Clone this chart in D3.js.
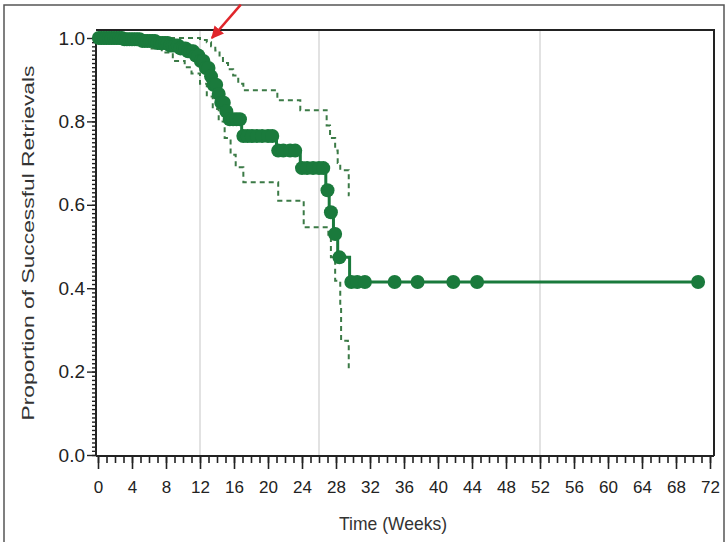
<!DOCTYPE html>
<html>
<head>
<meta charset="utf-8">
<script src="https://cdn.jsdelivr.net/npm/d3@7"></script>
<style>
  body { margin: 0; background: #fff; }
  svg { display: block; font-family: "Liberation Sans", Arial, sans-serif; }
</style>
</head>
<body>
<svg id="chart" width="727" height="542"></svg>
<script>
// -------- DATA --------
// Kaplan-Meier Schritte (Woche, Anteil)
const stepWeeks = [0, 3, 5, 7, 8.5, 9.5, 10.5, 11.3, 12, 12.6, 13.1, 13.5, 14, 14.5, 15, 15.4, 16.9, 21, 23.8, 26.8, 27.2, 27.7, 28.2, 29.6];
const stepSurv  = [1.0, 0.997, 0.993, 0.988, 0.982, 0.975, 0.968, 0.958, 0.945, 0.928, 0.908, 0.888, 0.866, 0.845, 0.824, 0.805, 0.765, 0.73, 0.688, 0.635, 0.582, 0.53, 0.474, 0.415];
const endWeek = 70.6;

// zensierte Beobachtungen (Marker)
const censorWeeks = [0.1, 0.4, 0.7, 1.0, 1.3, 1.6, 1.9, 2.2, 2.5, 2.8, 3.1, 3.4, 3.7, 4.0, 4.3, 4.6, 4.9, 5.2, 5.5, 5.8,
  6.1, 6.4, 6.7, 7.0, 7.3, 7.6, 7.9, 8.2, 8.5, 8.8, 9.1, 9.4, 9.7, 10.0, 10.3, 10.6, 10.9, 11.2, 11.5, 11.8,
  12.1, 12.4, 12.7, 13.0, 13.3, 13.6, 13.9, 14.2, 14.5, 14.8, 15.1, 15.5, 15.9, 16.3, 16.7, 17.1, 17.6, 18.1,
  18.7, 19.3, 20.0, 20.5, 21.2, 21.8, 22.6, 23.2, 24.0, 24.6, 25.3, 26.0, 26.5, 27.0, 27.4, 27.9, 28.4,
  29.8, 30.5, 31.4, 34.9, 37.6, 41.8, 44.6, 70.6];

// Konfidenzband
const upperWeeks = [0, 10.8, 12, 12.8, 13.3, 13.8, 14.3, 14.7, 15.3, 15.9, 16.5, 17.1, 21.1, 23.8, 26.9, 27.3, 27.9, 28.2, 28.5, 29.5, 29.6];
const upperSurv  = [1.0, 1.0, 0.995, 0.99, 0.98, 0.97, 0.955, 0.94, 0.925, 0.91, 0.89, 0.875, 0.851, 0.827, 0.79, 0.76, 0.73, 0.70, 0.683, 0.623, 0.623];
const lowerWeeks = [0, 2, 4, 6, 7.5, 8.8, 10.2, 11, 12, 12.8, 13.5, 14.2, 14.9, 15.6, 16.2, 17.1, 21.2, 24.2, 27.1, 27.4, 27.9, 28.5, 28.6, 29.4, 29.5, 29.6];
const lowerSurv  = [1.0, 0.995, 0.985, 0.975, 0.965, 0.945, 0.93, 0.915, 0.89, 0.86, 0.83, 0.8, 0.76, 0.72, 0.69, 0.654, 0.61, 0.546, 0.522, 0.474, 0.418, 0.353, 0.274, 0.267, 0.202, 0.202];

// Achsen / Gitter
const xTicks = [0, 4, 8, 12, 16, 20, 24, 28, 32, 36, 40, 44, 48, 52, 56, 60, 64, 68, 72];
const yTicks = [0.0, 0.2, 0.4, 0.6, 0.8, 1.0];
const gridWeeks = [12, 26, 52];

// -------- LAYOUT --------
const green = "#1a7a3c";
const dashGreen = "#3b7a46";
const svg = d3.select("#chart");

const x = d3.scaleLinear().domain([0, 72]).range([98, 710]);
const y = d3.scaleLinear().domain([0, 1]).range([455, 38]);
const plotLeft = 96, plotRight = 714, plotTop = 30, plotBottom = 456;

// äusserer Rahmen
svg.append("rect")
  .attr("x", 4).attr("y", 5).attr("width", 720).attr("height", 545)
  .attr("fill", "none").attr("stroke", "#555").attr("stroke-width", 1.5);

// Gitterlinien
svg.append("g").selectAll("line")
  .data(gridWeeks)
  .join("line")
    .attr("x1", d => x(d)).attr("x2", d => x(d))
    .attr("y1", plotTop).attr("y2", plotBottom)
    .attr("stroke", "#cfcfcf").attr("stroke-width", 1.2);

// Plot-Rahmen oben / rechts
svg.append("path")
  .attr("d", `M${plotLeft},${plotTop}H${plotRight}V${plotBottom}`)
  .attr("fill", "none").attr("stroke", "#222").attr("stroke-width", 2);

// X-Achse
const xAxisG = svg.append("g").attr("transform", `translate(0,${plotBottom})`);
xAxisG.call(d3.axisBottom(x).tickValues(d3.range(0, 73, 1)).tickSize(7).tickFormat(""));
xAxisG.call(g => g.append("g").call(d3.axisBottom(x).tickValues(xTicks).tickSize(13).tickFormat(d3.format("d"))));
xAxisG.selectAll(".domain").attr("d", `M${plotLeft},0H${plotRight}`).attr("stroke", "#222").attr("stroke-width", 2);
xAxisG.selectAll(".tick line").attr("stroke", "#222").attr("stroke-width", 1.6);
xAxisG.selectAll(".tick text")
  .attr("y", 25).attr("dy", "0.71em")
  .style("font-size", "17px").attr("fill", "#222");

// Y-Achse
const yAxisG = svg.append("g").attr("transform", `translate(${plotLeft},0)`);
yAxisG.call(d3.axisLeft(y).tickValues(d3.range(0, 1.001, 0.01)).tickSize(4).tickFormat(""));
yAxisG.call(g => g.append("g").call(d3.axisLeft(y).tickValues(yTicks).tickSize(9).tickFormat(d3.format(".1f"))));
yAxisG.selectAll(".domain").attr("d", `M0,${plotTop + 8}V${plotBottom}`).attr("stroke", "#222").attr("stroke-width", 2);
yAxisG.selectAll(".tick line").attr("stroke", "#222").attr("stroke-width", 1.4);
yAxisG.selectAll(".tick text")
  .attr("x", -11)
  .style("font-size", "19px").attr("fill", "#222");

// Achsentitel
svg.append("text")
  .attr("x", 393).attr("y", 530)
  .attr("text-anchor", "middle")
  .attr("textLength", 108).attr("lengthAdjust", "spacingAndGlyphs")
  .style("font-size", "19px").attr("fill", "#333")
  .text("Time (Weeks)");

svg.append("text")
  .attr("transform", `translate(34,243) rotate(-90)`)
  .attr("text-anchor", "middle")
  .attr("textLength", 355).attr("lengthAdjust", "spacingAndGlyphs")
  .style("font-size", "17px").attr("fill", "#333")
  .text("Proportion of Successful Retrievals");

// -------- KURVEN --------
const stepLine = d3.line()
  .x(d => x(d[0]))
  .y(d => y(d[1]))
  .curve(d3.curveStepAfter);

const upper = upperWeeks.map((w, i) => [w, upperSurv[i]]);
const lower = lowerWeeks.map((w, i) => [w, lowerSurv[i]]);

svg.append("g").selectAll("path")
  .data([upper, lower])
  .join("path")
    .attr("d", stepLine)
    .attr("fill", "none")
    .attr("stroke", dashGreen)
    .attr("stroke-width", 2)
    .attr("stroke-dasharray", "5,4");

const km = stepWeeks.map((w, i) => [w, stepSurv[i]]);
km.push([endWeek, stepSurv[stepSurv.length - 1]]);

svg.append("path")
  .attr("d", stepLine(km))
  .attr("fill", "none")
  .attr("stroke", green)
  .attr("stroke-width", 3);

// Wert der Stufenfunktion an einer Stelle
const survAt = w => {
  const i = d3.bisectRight(stepWeeks, w) - 1;
  return stepSurv[Math.max(0, i)];
};

svg.append("g").selectAll("circle")
  .data(censorWeeks)
  .join("circle")
    .attr("cx", d => x(d))
    .attr("cy", d => y(survAt(d)))
    .attr("r", 7)
    .attr("fill", green);

// -------- PFEIL --------
const arrowFrom = [16.8, 1.08], arrowTo = [13.4, 1.0];
svg.append("defs").append("marker")
  .attr("id", "arrowhead")
  .attr("viewBox", "0 0 10 10")
  .attr("refX", 9).attr("refY", 5)
  .attr("markerWidth", 5).attr("markerHeight", 5)
  .attr("orient", "auto")
  .append("path").attr("d", "M0,0L10,5L0,10z").attr("fill", "#e0262b");

svg.append("line")
  .attr("x1", x(arrowFrom[0])).attr("y1", y(arrowFrom[1]))
  .attr("x2", x(arrowTo[0])).attr("y2", y(arrowTo[1]))
  .attr("stroke", "#e0262b").attr("stroke-width", 2.5)
  .attr("marker-end", "url(#arrowhead)");
</script>
</body>
</html>
